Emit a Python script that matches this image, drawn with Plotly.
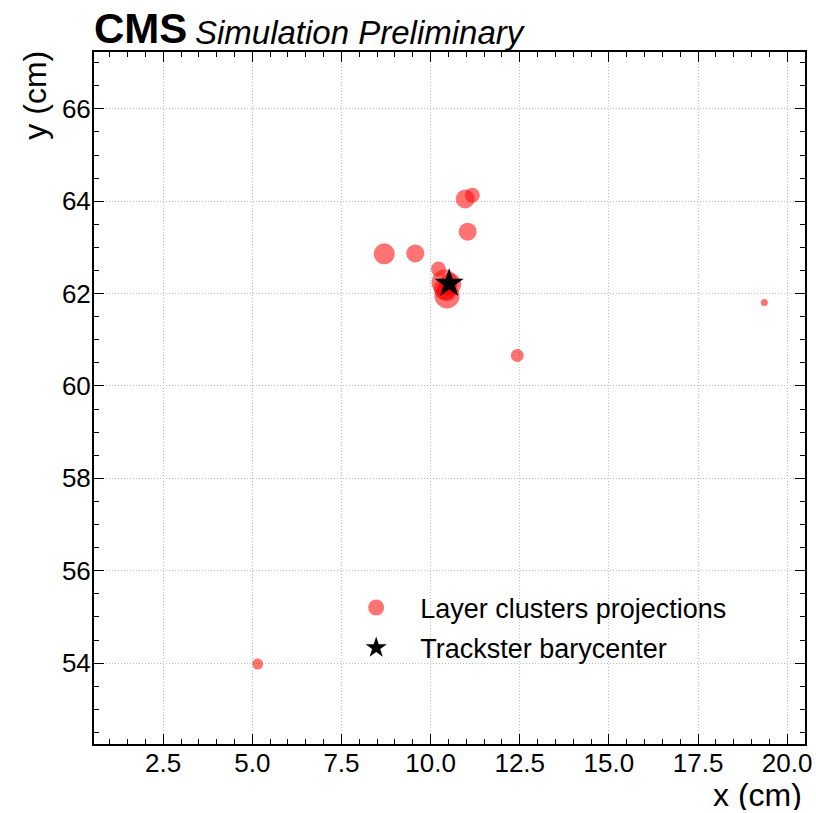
import plotly.graph_objects as go

# Layer cluster projections (cm) and marker sizes (px diameters)
lc_x = [5.15, 12.43, 19.36, 8.70, 9.57, 10.97, 11.17, 11.04, 10.22, 10.39, 10.46, 10.55, 10.40, 10.45]
lc_y = [53.98, 60.66, 61.81, 62.86, 62.87, 64.05, 64.13, 63.34, 62.53, 62.24, 61.95, 62.20, 62.10, 62.05]
lc_size = [11, 13, 7, 21, 18, 19, 15, 18, 15, 26, 25, 22, 22, 20]

# Trackster barycenter
bary_x = [10.52]
bary_y = [62.22]

x_range = [0.56, 20.5]
y_range = [52.25, 67.23]

FONT = "Liberation Sans, Arial, Helvetica, sans-serif"

fig = go.Figure()
fig.add_trace(go.Scatter(
    x=lc_x, y=lc_y, mode="markers",
    name="Layer clusters projections",
    legendgroup="a",
    marker=dict(size=lc_size, color="rgba(255,0,0,0.55)", opacity=1, line=dict(width=0)),
))
fig.add_trace(go.Scatter(
    x=bary_x, y=bary_y, mode="markers",
    name="Trackster barycenter",
    legendgroup="b",
    marker=dict(size=22, symbol="star", color="black", opacity=1, line=dict(width=0)),
))

axis_common = dict(
    showline=True, linecolor="black", linewidth=2, mirror="allticks",
    ticks="inside", ticklen=10, tickwidth=1.3, tickcolor="black",
    showgrid=True, gridcolor="#bdbdbd", griddash="1px,2px", gridwidth=1,
    zeroline=False, automargin=False,
    tickfont=dict(family=FONT, size=26, color="black"),
)

fig.update_xaxes(
    range=x_range, tick0=0, dtick=2.5, tickformat=".1f", ticklabelstandoff=-5,
    minor=dict(ticks="inside", ticklen=5, tickwidth=1, tickcolor="black", dtick=0.5, tick0=0, showgrid=False),
    **axis_common,
)
fig.update_yaxes(
    range=y_range, tick0=0, dtick=2, ticklabelstandoff=-4,
    minor=dict(ticks="inside", ticklen=5, tickwidth=1, tickcolor="black", dtick=0.5, tick0=0, showgrid=False),
    **axis_common,
)

fig.update_layout(
    template="none",
    width=816, height=813,
    margin=dict(l=94, r=11, t=52, b=69, autoexpand=False),
    plot_bgcolor="white", paper_bgcolor="white",
    font=dict(family=FONT, color="black"),
    showlegend=True,
    legend=dict(
        x=0.335, y=0.232, xanchor="left", yanchor="top",
        bgcolor="rgba(0,0,0,0)", borderwidth=0,
        font=dict(family=FONT, size=27, color="black"),
        itemwidth=78, traceorder="grouped", tracegroupgap=2,
    ),
    annotations=[
        dict(text="<b>CMS</b>", xref="paper", yref="paper", x=0, y=1, xanchor="left", yanchor="bottom",
             showarrow=False, font=dict(family=FONT, size=42, color="black"), xshift=-2, yshift=-2),
        dict(text="<i>Simulation Preliminary</i>", xref="paper", yref="paper", x=0.142, y=1, xanchor="left", yanchor="bottom",
             showarrow=False, font=dict(family=FONT, size=33, color="black"), xshift=-2, yshift=-1),
        dict(text="x (cm)", xref="paper", yref="paper", x=1, y=-0.0737, xanchor="right", yanchor="middle",
             height=30, valign="middle",
             showarrow=False, font=dict(family=FONT, size=32, color="black"), xshift=-1),
        dict(text="y (cm)", xref="paper", yref="paper", x=-0.0835, y=1.005, xanchor="center", yanchor="top",
             textangle=-90, showarrow=False, font=dict(family=FONT, size=32, color="black")),
    ],
)

fig.write_html("out.html")
